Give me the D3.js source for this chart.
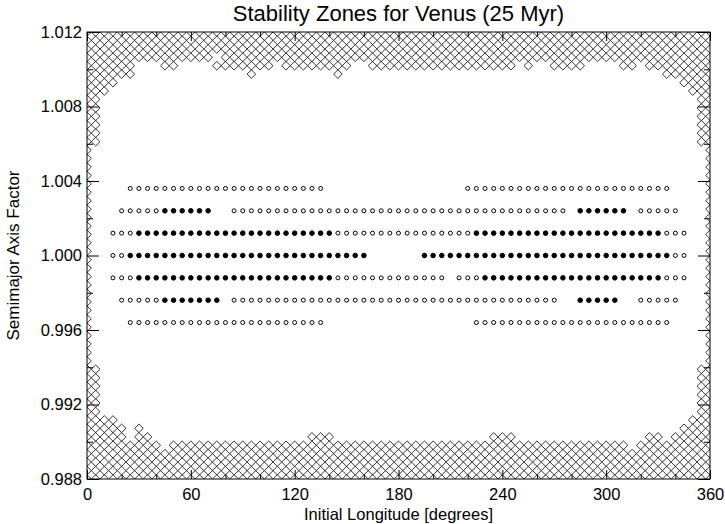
<!DOCTYPE html>
<html lang="en">
<head>
<meta charset="UTF-8" />
<script src="https://d3js.org/d3.v7.min.js"></script>
<title>Stability Zones for Venus</title>
<style>
  body { margin: 0; background: white; }
  svg { background-color: white; }
  text { font-family: "Liberation Sans", Arial, sans-serif; fill: black; }
</style>
</head>
<body>
<script>
// Initial longitude grid, one column every 5 degrees
const lonGrid = [0, 5, 10, 15, 20, 25, 30, 35, 40, 45, 50, 55, 60, 65, 70, 75, 80, 85, 90, 95,
  100, 105, 110, 115, 120, 125, 130, 135, 140, 145, 150, 155, 160, 165, 170, 175, 180, 185, 190, 195,
  200, 205, 210, 215, 220, 225, 230, 235, 240, 245, 250, 255, 260, 265, 270, 275, 280, 285, 290, 295,
  300, 305, 310, 315, 320, 325, 330, 335, 340, 345, 350, 355, 360];

// semimajor axis factors of the unstable (diamond) grid, top row first
const aUnstable = [1.01200, 1.01155, 1.01109, 1.01064, 1.01019, 1.00974, 1.00928, 1.00883, 1.00838, 1.00792,
  1.00747, 1.00702, 1.00657, 1.00611, 1.00566, 1.00521, 1.00475, 1.00430, 1.00385, 1.00340,
  1.00294, 1.00249, 1.00204, 1.00158, 1.00113, 1.00068, 1.00023, 0.99977, 0.99932, 0.99887,
  0.99842, 0.99796, 0.99751, 0.99706, 0.99660, 0.99615, 0.99570, 0.99525, 0.99479, 0.99434,
  0.99389, 0.99343, 0.99298, 0.99253, 0.99208, 0.99162, 0.99117, 0.99072, 0.99026, 0.98981,
  0.98936, 0.98891, 0.98845, 0.98800];

// one string per row of aUnstable, one char per lonGrid column ('x' = unstable)
// '|' only separates 60 degree blocks for reading
const unstableMap = [
  "xxxxxxxxxxxx|xxxxxxxxxxxx|xxxxxxxxxxxx|xxxxxxxxxxxx|xxxxxxxxxxxx|xxxxxxxxxxxx|x",
  "xxxxxxxxxxxx|xxxxxxxxxxxx|xxxxxxxxxxxx|xxxxxxxxxxxx|xxxxxxxxxxxx|xxxxxxxxxxxx|x",
  "xxxxxxxxxxxx|xxxxxxxxxxxx|xxxxxxxxxxxx|xxxxxxxxxxxx|xxxxxxxxxxxx|xxxxxxxxxxxx|x",
  "xxxxxxxxxxxx|xxx.xxxxxxxx|xxxxxxxxxxxx|xxxxxxxxxxxx|xxxxxxxxxxxx|xxxxxxxxxxxx|x",
  "xxxxxx...xx.|...xxxxxxx.x|xxxxxxx..xxx|xxxxxxxxxxxx|xx.x..xxxx..|..xx.xxxxxxx|x",
  "xxxxxx......|.......x....|.....x......|............|............|.......xxxxx|x",
  "xxxx........|............|............|............|............|.........xxx|x",
  "xxx.........|............|............|............|............|..........xx|x",
  "xx..........|............|............|............|............|...........x|x",
  "xx..........|............|............|............|............|...........x|x",
  "xx..........|............|............|............|............|...........x|x",
  "xx..........|............|............|............|............|...........x|x",
  "xx..........|............|............|............|............|...........x|x",
  "xx..........|............|............|............|............|...........x|x",
  "x...........|............|............|............|............|............|x",
  "x...........|............|............|............|............|............|x",
  "x...........|............|............|............|............|............|x",
  "x...........|............|............|............|............|............|x",
  "x...........|............|............|............|............|............|x",
  "x...........|............|............|............|............|............|x",
  "x...........|............|............|............|............|............|x",
  "x...........|............|............|............|............|............|x",
  "x...........|............|............|............|............|............|x",
  "x...........|............|............|............|............|............|x",
  "x...........|............|............|............|............|............|x",
  "x...........|............|............|............|............|............|x",
  "x...........|............|............|............|............|............|x",
  "x...........|............|............|............|............|............|x",
  "x...........|............|............|............|............|............|x",
  "x...........|............|............|............|............|............|x",
  "x...........|............|............|............|............|............|x",
  "x...........|............|............|............|............|............|x",
  "x...........|............|............|............|............|............|x",
  "x...........|............|............|............|............|............|x",
  "x...........|............|............|............|............|............|x",
  "x...........|............|............|............|............|............|x",
  "x...........|............|............|............|............|............|x",
  "x...........|............|............|............|............|............|x",
  "x...........|............|............|............|............|............|x",
  "x...........|............|............|............|............|............|x",
  "xx..........|............|............|............|............|...........x|x",
  "xx..........|............|............|............|............|...........x|x",
  "xx..........|............|............|............|............|...........x|x",
  "xx..........|............|............|............|............|...........x|x",
  "xx..........|............|............|............|............|...........x|x",
  "xx..........|............|............|............|............|...........x|x",
  "xxxx........|............|............|............|............|..........xx|x",
  "xxxxx.x.....|............|............|............|............|.........xxx|x",
  "xxxxx.xx....|............|..xxx.......|...........x|xx..........|.....xx.xxxx|x",
  "xxxxxxxxx.xx|xxxxxxxxxxxx|xxxxxxxxxxxx|xxxxxxxxxxxx|xxxxxxxxxxxx|xxx.xxxxxxxx|x",
  "xxxxxxxxxxxx|xxxxxxxxxxxx|xxxxxxxxxxxx|xxxxxxxxxxxx|xxxxxxxxxxxx|xxxxxxxxxxxx|x",
  "xxxxxxxxxxxx|xxxxxxxxxxxx|xxxxxxxxxxxx|xxxxxxxxxxxx|xxxxxxxxxxxx|xxxxxxxxxxxx|x",
  "xxxxxxxxxxxx|xxxxxxxxxxxx|xxxxxxxxxxxx|xxxxxxxxxxxx|xxxxxxxxxxxx|xxxxxxxxxxxx|x",
  "xxxxxxxxxxxx|xxxxxxxxxxxx|xxxxxxxxxxxx|xxxxxxxxxxxx|xxxxxxxxxxxx|xxxxxxxxxxxx|x"
];

// surviving particles: 'o' = open circle, '*' = filled circle
const aStable = [1.0036, 1.0024, 1.0012, 1.0000, 0.9988, 0.9976, 0.9964];
const stableMap = [
  ".....ooooooo|oooooooooooo|oooo........|........oooo|oooooooooooo|oooooooo....|.",
  "....ooooo***|***..ooooooo|oooooooooooo|oooooooooooo|oooooooo.***|***.ooooo...|.",
  "...ooo******|************|*****ooooooo|ooooooooo***|************|*******ooo..|.",
  "...oo*******|************|*********...|...*********|************|********oo..|.",
  "...ooo******|************|*****ooooooo|oooooo.ooo**|************|*******ooo..|.",
  "....ooooo***|****.ooooooo|oooooooooooo|oooooooooooo|ooooooo..***|**..ooooo...|.",
  ".....ooooooo|oooooooooooo|oooo........|.........ooo|oooooooooooo|oooooooo....|."
];

const xTicks = [0, 60, 120, 180, 240, 300, 360];
const xMinor = [20, 40, 80, 100, 140, 160, 200, 220, 260, 280, 320, 340];
const yTicks = [0.988, 0.992, 0.996, 1.000, 1.004, 1.008, 1.012];
const yMinor = [0.990, 0.994, 0.998, 1.002, 1.006, 1.010];

const titleText = "Stability Zones for Venus (25 Myr)";
const xTitle = "Initial Longitude [degrees]";
const yTitle = "Semimajor Axis Factor";

const width = 725;
const height = 524;
const margin = { top: 32, right: 15, bottom: 45, left: 87 };

const svg = d3.select("body")
  .append("svg")
  .attr("width", width)
  .attr("height", height);

const x = d3.scaleLinear()
  .domain([0, 360])
  .range([margin.left, width - margin.right]);

const y = d3.scaleLinear()
  .domain([0.988, 1.012])
  .range([height - margin.bottom, margin.top]);

svg.append("clipPath")
  .attr("id", "plot-clip")
  .append("rect")
  .attr("x", margin.left)
  .attr("y", margin.top)
  .attr("width", x(360) - x(0))
  .attr("height", y(0.988) - y(1.012));

// turn the row strings into points
const toPoints = (map, aValues) => {
  const pts = [];
  map.forEach((row, i) => {
    row.replace(/\|/g, "").split("").forEach((c, j) => {
      if (c !== "." && j < lonGrid.length) pts.push({ lon: lonGrid[j], a: aValues[i], kind: c });
    });
  });
  return pts;
};

const unstable = toPoints(unstableMap, aUnstable);
const stable = toPoints(stableMap, aStable);

const plot = svg.append("g").attr("clip-path", "url(#plot-clip)");

const dw = (x(5) - x(0)) / 2;
const dh = 4.3;
plot.selectAll("path.dia")
  .data(unstable)
  .join("path")
  .attr("class", "dia")
  .attr("d", `M0,${-dh}L${dw},0L0,${dh}L${-dw},0Z`)
  .attr("transform", d => `translate(${x(d.lon)},${y(d.a)})`)
  .attr("fill", "none")
  .attr("stroke", "black")
  .attr("stroke-width", 0.8);

plot.selectAll("circle")
  .data(stable)
  .join("circle")
  .attr("cx", d => x(d.lon))
  .attr("cy", d => y(d.a))
  .attr("r", d => d.kind === "*" ? 2.3 : 2)
  .attr("fill", d => d.kind === "*" ? "black" : "white")
  .attr("stroke", "black")
  .attr("stroke-width", 1);

// axes: IDL style, ticks pointing inward on all four sides
const fmt = d3.format(".3f");
const axisStyle = g => {
  g.select(".domain").remove();
  g.selectAll("line").attr("stroke", "black");
  g.selectAll("text").attr("font-size", 16.5).style("font-family", '"Liberation Sans", Arial, sans-serif');
};

svg.append("g")
  .attr("transform", `translate(0,${y(0.988)})`)
  .call(d3.axisBottom(x).tickValues(xTicks).tickSize(-9).tickPadding(9).tickFormat(d3.format("d")))
  .call(axisStyle);
svg.append("g")
  .attr("transform", `translate(0,${y(0.988)})`)
  .call(d3.axisBottom(x).tickValues(xMinor).tickSize(-4.5).tickFormat(""))
  .call(axisStyle);
svg.append("g")
  .attr("transform", `translate(0,${y(1.012)})`)
  .call(d3.axisTop(x).tickValues(xTicks).tickSize(-9).tickFormat(""))
  .call(axisStyle);
svg.append("g")
  .attr("transform", `translate(0,${y(1.012)})`)
  .call(d3.axisTop(x).tickValues(xMinor).tickSize(-4.5).tickFormat(""))
  .call(axisStyle);

svg.append("g")
  .attr("transform", `translate(${x(0)},0)`)
  .call(d3.axisLeft(y).tickValues(yTicks).tickSize(-12).tickPadding(5).tickFormat(fmt))
  .call(axisStyle);
svg.append("g")
  .attr("transform", `translate(${x(0)},0)`)
  .call(d3.axisLeft(y).tickValues(yMinor).tickSize(-6).tickFormat(""))
  .call(axisStyle);
svg.append("g")
  .attr("transform", `translate(${x(360)},0)`)
  .call(d3.axisRight(y).tickValues(yTicks).tickSize(-12).tickFormat(""))
  .call(axisStyle);
svg.append("g")
  .attr("transform", `translate(${x(360)},0)`)
  .call(d3.axisRight(y).tickValues(yMinor).tickSize(-6).tickFormat(""))
  .call(axisStyle);

svg.append("rect")
  .attr("x", x(0))
  .attr("y", y(1.012))
  .attr("width", x(360) - x(0))
  .attr("height", y(0.988) - y(1.012))
  .attr("fill", "none")
  .attr("stroke", "black")
  .attr("stroke-width", 1);

svg.append("text")
  .attr("x", (x(0) + x(360)) / 2)
  .attr("y", 21)
  .attr("text-anchor", "middle")
  .attr("font-size", 22)
  .text(titleText);

svg.append("text")
  .attr("x", (x(0) + x(360)) / 2)
  .attr("y", 519.5)
  .attr("text-anchor", "middle")
  .attr("font-size", 16.5)
  .text(xTitle);

svg.append("text")
  .attr("transform", `translate(19,${(y(0.988) + y(1.012)) / 2}) rotate(-90)`)
  .attr("text-anchor", "middle")
  .attr("font-size", 17)
  .text(yTitle);
</script>
</body>
</html>
